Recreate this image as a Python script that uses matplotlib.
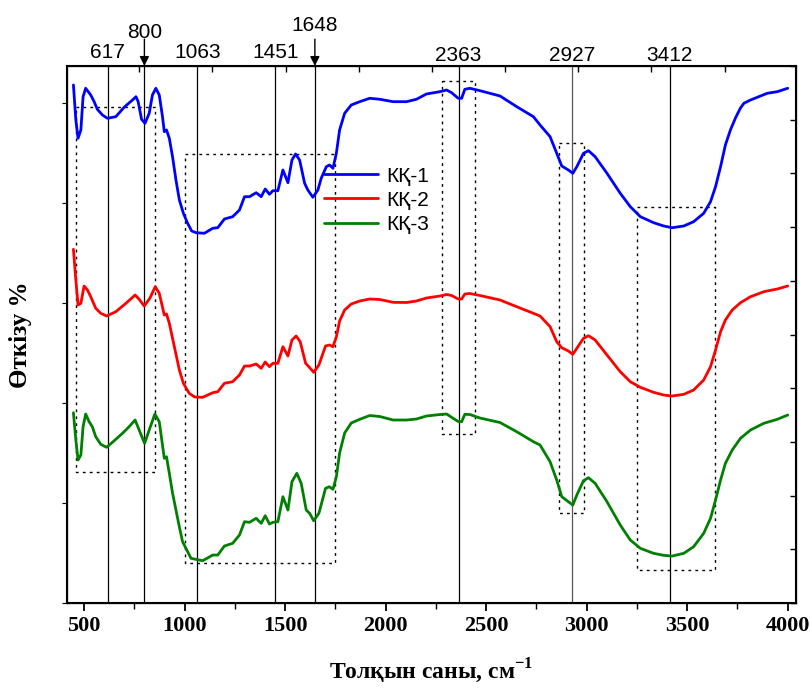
import matplotlib
matplotlib.use("Agg")
import matplotlib.pyplot as plt
from matplotlib.ticker import MultipleLocator, FixedLocator

plt.rcParams['mathtext.fontset'] = 'custom'
plt.rcParams['mathtext.rm'] = 'Liberation Serif:bold'
plt.rcParams['mathtext.bf'] = 'Liberation Serif:bold'

# ---------------- data (wavenumber, arbitrary transmittance) ----------------
x1 = [447, 459, 470, 484, 495, 508, 533, 550, 566, 591, 616, 658, 699, 741, 758, 769, 786, 803, 824,
      840, 857, 874, 890, 899, 910, 924, 940, 957, 974, 994, 1015, 1035, 1057, 1098, 1140, 1165, 1198,
      1239, 1273, 1298, 1323, 1356, 1381, 1401, 1422, 1439, 1464, 1489, 1514, 1534, 1552, 1572, 1597,
      1613, 1638, 1663, 1680, 1705, 1721, 1738, 1755, 1771, 1796, 1829, 1871, 1921, 1971, 2037, 2104,
      2153, 2203, 2270, 2303, 2328, 2361, 2378, 2394, 2419, 2469, 2569, 2652, 2735, 2768, 2818, 2851,
      2876, 2909, 2931, 2951, 2984, 3009, 3042, 3101, 3167, 3217, 3267, 3333, 3383, 3425, 3483, 3532,
      3582, 3616, 3641, 3666, 3690, 3715, 3740, 3765, 3782, 3815, 3856, 3898, 3948, 4000]
kk1 = [518, 483, 464.7, 473, 506.3, 514.7, 508, 501.3, 493.7, 488, 484.7, 486.3, 495.7, 503, 506.3,
       501.3, 483.7, 479.7, 489.7, 508, 514.7, 508, 486.3, 471.3, 473, 464.7, 446.3, 423, 403, 389.7,
       379.7, 372, 370.3, 369.7, 374.7, 375.3, 384, 386.3, 393, 406.3, 406.3, 410.3, 406.3, 414, 408.7,
       412.3, 412.3, 433, 420.3, 443, 449, 443, 419.7, 413, 405.7, 413, 425, 436.3, 438, 434.7, 450,
       473, 489.7, 498, 501.3, 504.7, 503.7, 501.3, 501.3, 503.7, 509, 511.3, 513, 510.3, 504.7, 504.7,
       513.7, 514.7, 512.3, 507, 496.3, 486.3, 478, 466.3, 449.7, 437, 433, 429.7, 436.3, 449.7, 452.3,
       446.3, 429.7, 409.7, 396.3, 386.3, 380.3, 377, 375.3, 377, 381.3, 389.7, 401.3, 416.3, 436.3, 458,
       473, 485, 495, 499.7, 503, 506.3, 509.7, 511.3, 514.7]

x2 = [447, 459, 470, 484, 500, 517, 533, 558, 583, 612, 658, 708, 754, 774, 799, 827, 854, 874, 899,
      910, 924, 949, 974, 994, 1023, 1050, 1090, 1140, 1165, 1198, 1239, 1273, 1298, 1323, 1356, 1381,
      1401, 1422, 1439, 1464, 1489, 1514, 1534, 1555, 1575, 1602, 1618, 1642, 1668, 1701, 1720, 1738,
      1755, 1771, 1796, 1829, 1871, 1921, 1971, 2037, 2104, 2153, 2203, 2270, 2303, 2328, 2361, 2378,
      2394, 2419, 2469, 2569, 2652, 2735, 2768, 2818, 2851, 2876, 2909, 2931, 2951, 2984, 3009, 3042,
      3101, 3167, 3217, 3267, 3333, 3383, 3425, 3483, 3532, 3582, 3616, 3641, 3666, 3690, 3724, 3765,
      3815, 3881, 3948, 4000]
kk2 = [353.7, 323, 298, 299.7, 317, 313, 306.3, 294.7, 289.7, 287, 291.3, 299.7, 308, 303.7, 297,
       304.7, 316.3, 309.7, 288, 289, 279.7, 256.3, 233, 219.7, 209.7, 206, 205.7, 210.3, 211.3, 219.7,
       221.3, 228, 237, 237, 239, 234.7, 241, 236.3, 239.7, 239.7, 256.3, 247, 263, 267, 261.3, 239.7,
       236.3, 230.7, 238, 257, 258, 256.3, 266.3, 282, 293, 299, 302, 304, 303.5, 300.7, 300.5, 302,
       305, 307, 308.5, 307.5, 304, 304, 309, 309.5, 307.5, 303, 296.3, 289.7, 287, 276.3, 261.3,
       255.3, 252, 248.7, 254.7, 264.7, 267.3, 263, 248, 231.3, 221.3, 215.7, 210.7, 208, 207, 208.7,
       213, 223, 236.3, 253, 271.3, 283, 293, 300.3, 306.3, 311.3, 314, 317]

x3 = [447, 459, 470, 484, 495, 508, 525, 541, 558, 583, 612, 641, 691, 724, 754, 774, 801, 827, 852,
      874, 899, 910, 924, 940, 957, 974, 990, 1032, 1090, 1140, 1165, 1198, 1239, 1273, 1298, 1323,
      1356, 1381, 1401, 1422, 1439, 1464, 1489, 1514, 1534, 1558, 1580, 1605, 1622, 1642, 1668, 1701,
      1720, 1738, 1755, 1771, 1796, 1829, 1871, 1921, 1971, 2037, 2104, 2153, 2203, 2270, 2303, 2336,
      2361, 2378, 2394, 2419, 2469, 2569, 2652, 2735, 2768, 2818, 2851, 2876, 2909, 2931, 2951, 2984,
      3009, 3042, 3101, 3167, 3217, 3267, 3333, 3383, 3425, 3483, 3532, 3582, 3616, 3641, 3666, 3690,
      3724, 3765, 3815, 3881, 3948, 4000]
kk3 = [190.3, 163, 143, 148, 176.3, 189, 181.3, 176.3, 166.3, 158.7, 155.7, 160.7, 169.7, 176.3, 183,
       173, 159.7, 174.7, 189, 181.3, 144.7, 146.3, 129.7, 110, 93, 76, 61.3, 44.7, 42.3, 48, 48, 57,
       59.7, 68, 81.3, 80.7, 84.7, 79.7, 87.3, 79, 80.7, 81.3, 106.3, 93, 121.3, 129.7, 119.7, 93, 89.7,
       82.3, 89.7, 114.7, 116.3, 113.7, 126.3, 150, 170, 180, 183.7, 187.5, 186.5, 183, 183, 184, 187,
       188.5, 189, 184.7, 181.5, 181.3, 188.7, 188.5, 185, 180.5, 171.3, 161.3, 158, 141.3, 123, 106.3,
       101.3, 98, 108, 122.3, 125.3, 119.7, 101.3, 78, 63, 54.7, 49.7, 47.7, 47, 49.7, 56.3, 69.7, 84.7,
       103, 123, 139.7, 153, 164.7, 173, 179.7, 183.7, 188]

series_names = ['КҚ-1', 'КҚ-2', 'КҚ-3']
series_colors = ['#0000ff', '#ff0000', '#008000']

peaks = [617, 800, 1063, 1451, 1648, 2363, 2927, 3412]
peak_label_y = [1.026, 1.063, 1.026, 1.026, 1.076, 1.020, 1.020, 1.020]
arrow_peaks = [800, 1648]

# boxes: (x0, x1, y0, y1)
boxes = [(458, 852, 131, 496), (1002, 1750, 40, 449), (2281, 2444, 169, 522),
         (2861, 2989, 90, 460), (3250, 3637, 33, 396)]

xticks = [500, 1000, 1500, 2000, 2500, 3000, 3500, 4000]
top_ticks = [774, 1138, 1502, 1866, 2230, 2594, 2958, 3322, 3686]

# ---------------- figure ----------------
fig = plt.figure(figsize=(8.12, 6.88), dpi=100)
ax = fig.add_axes([0.0825, 0.1235, 0.8975, 0.7806])

for xs, ys, name, c in zip([x1, x2, x3], [kk1, kk2, kk3], series_names, series_colors):
    assert len(xs) == len(ys)
    ax.plot(xs, ys, color=c, lw=2.0, label=name, solid_joinstyle='round',
            solid_capstyle='round', zorder=3)

for p in peaks:
    col = '#555555' if p == 2927 else 'black'
    ax.axvline(p, color=col, lw=0.9, zorder=1)

for (bx0, bx1, by0, by1) in boxes:
    ax.plot([bx0, bx1, bx1, bx0, bx0], [by1, by1, by0, by0, by1], color='black',
            lw=1.0, ls=(0, (2, 3)), zorder=2)

xt = ax.get_xaxis_transform()
lab_font = ['Liberation Sans', 'DejaVu Sans']
for p, fy in zip(peaks, peak_label_y):
    ax.text(p, fy, str(p), transform=xt, ha='center', va='center', fontsize=15,
            family=lab_font, clip_on=False)
for p in arrow_peaks:
    ax.annotate('', xy=(p, 1.0), xycoords=xt, xytext=(p, 1.05), textcoords=xt,
                arrowprops=dict(arrowstyle='-|>', color='black', lw=1.0, mutation_scale=14,
                                shrinkA=0, shrinkB=0))

ax.set_xlim(415, 4040)
ax.set_ylim(0, 537)

ax.xaxis.set_major_locator(FixedLocator(xticks))
ax.xaxis.set_minor_locator(MultipleLocator(250))
ax.tick_params(axis='x', which='major', direction='out', length=6, width=1.3, labelsize=16)
ax.tick_params(axis='x', which='minor', direction='out', length=4, width=1.0)
ax.tick_params(axis='y', left=False, labelleft=False)
for lbl in ax.get_xticklabels():
    lbl.set_family(['Liberation Serif', 'DejaVu Serif'])
    lbl.set_fontweight('bold')

for s in ax.spines.values():
    s.set_linewidth(1.5)

# top and right inner ticks
axt = ax.twiny()
axt.set_xlim(ax.get_xlim())
axt.xaxis.set_major_locator(FixedLocator(top_ticks))
axt.tick_params(axis='x', direction='in', length=4, width=1.0, labeltop=False)
axr = ax.twinx()
axr.set_ylim(ax.get_ylim())
axr.yaxis.set_major_locator(MultipleLocator(53.7))
axr.tick_params(axis='y', direction='in', length=4, width=1.0, labelright=False)

ax.set_xlabel('Толқын саны, см$^{-1}$', fontsize=17, fontweight='bold',
              family=['Liberation Serif', 'DejaVu Serif'], labelpad=15)
ax.set_ylabel('Өткізу %', fontsize=18, fontweight='bold',
              family=['Liberation Serif', 'DejaVu Serif'], labelpad=22)

leg = ax.legend(loc='center left', bbox_to_anchor=(0.352, 0.750), frameon=False,
                prop={'family': lab_font, 'size': 15}, handlelength=2.6, handletextpad=0.4,
                labelspacing=0.25, borderpad=0, borderaxespad=0)
for h in leg.get_lines():
    h.set_linewidth(2.0)

fig.savefig('out.png', dpi=100)
